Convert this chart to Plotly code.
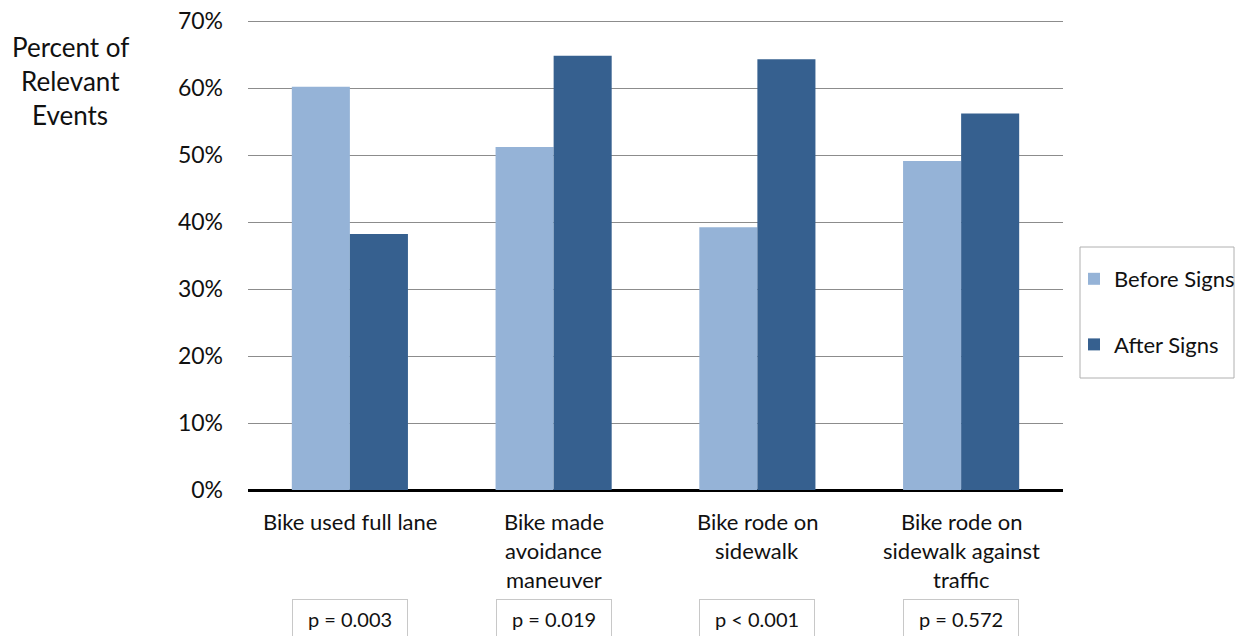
import plotly.graph_objects as go

categories = ["Bike used full lane", "Bike made<br>avoidance<br>maneuver",
              "Bike rode on<br>sidewalk", "Bike rode on<br>sidewalk against<br>traffic"]
before_signs = [60.2, 51.2, 39.2, 49.1]
after_signs = [38.2, 64.8, 64.3, 56.2]
p_values = ["p = 0.003", "p = 0.019", "p < 0.001", "p = 0.572"]
y_ticks = [0, 10, 20, 30, 40, 50, 60, 70]
y_tick_labels = ["0%", "10%", "20%", "30%", "40%", "50%", "60%", "70%"]
y_title_lines = ["Percent of", "Relevant", "Events"]

FONT = "Lato"
TXT = "#111111"

# the page body has an 8px margin: figure coords = window coords - 8
W, H = 1227, 628
L, R, T, B = 240, 172, 11, 146
PW, PH = W - L - R, H - T - B


def px(xw):  # window x -> paper x
    return (xw - 8 - L) / PW


def py(yw):  # window y -> paper y
    return (H - B - (yw - 8)) / PH


x_idx = list(range(len(categories)))

fig = go.Figure()
fig.add_trace(go.Bar(x=x_idx, y=before_signs, name="Before Signs",
                     marker=dict(color="#95B3D7", line=dict(width=0)),
                     legendgroup="a"))
fig.add_trace(go.Bar(x=x_idx, y=after_signs, name="After Signs",
                     marker=dict(color="#36608F", line=dict(width=0)),
                     legendgroup="b"))

annotations = []
# category labels, one annotation per line for Excel-like line spacing
for i, cat in enumerate(categories):
    for j, line in enumerate(cat.split("<br>")):
        annotations.append(dict(x=i, y=0, xref="x", yref="y", text=line,
                                showarrow=False, xanchor="center", yanchor="middle",
                                yshift=-31 - 29 * j,
                                font=dict(family=FONT, size=22, color=TXT)))
# p-value boxes
for i, p in enumerate(p_values):
    annotations.append(dict(x=i, y=0, xref="x", yref="y", text=p,
                            showarrow=False, xanchor="center", yanchor="top",
                            yshift=-109, width=112, height=36,
                            bordercolor="#C8C8C8", borderwidth=1, bgcolor="white",
                            font=dict(family=FONT, size=20, color=TXT)))
# y axis title (horizontal, top-left)
for k, line in enumerate(y_title_lines):
    annotations.append(dict(x=px(70), y=py(47 + 34 * k),
                            xref="paper", yref="paper", text=line,
                            showarrow=False, xanchor="center", yanchor="middle",
                            font=dict(family=FONT, size=26, color=TXT)))

# legend frame
shapes = [dict(type="rect", xref="paper", yref="paper",
               x0=px(1080), x1=px(1234), y0=py(378), y1=py(247),
               line=dict(color="#B0B0B0", width=1), fillcolor="rgba(0,0,0,0)",
               layer="above")]

fig.update_layout(
    template="none",
    width=W, height=H,
    margin=dict(l=L, r=R, t=T, b=B, pad=0, autoexpand=False),
    paper_bgcolor="white", plot_bgcolor="white",
    barmode="group", bargap=0.43, bargroupgap=0,
    font=dict(family=FONT, color=TXT),
    xaxis=dict(range=[-0.5, 3.5], showticklabels=False, showgrid=False,
               zeroline=False, showline=False, ticks="", automargin=False),
    yaxis=dict(range=[0, 70.3], tickvals=y_ticks, ticktext=y_tick_labels,
               showgrid=True, gridcolor="#8C8C8C", gridwidth=1,
               zeroline=True, zerolinecolor="#000000", zerolinewidth=3,
               showline=False, ticks="", ticklabelstandoff=24, automargin=False,
               ticklabeloverflow="allow",
               tickfont=dict(family=FONT, size=23, color=TXT)),
    legend=dict(x=px(1074), y=py(258), xanchor="left", yanchor="top",
                borderwidth=0, bgcolor="rgba(0,0,0,0)",
                tracegroupgap=34, itemwidth=30,
                font=dict(family=FONT, size=22, color=TXT)),
    annotations=annotations,
    shapes=shapes,
    showlegend=True,
)

fig.write_html("out.html")
